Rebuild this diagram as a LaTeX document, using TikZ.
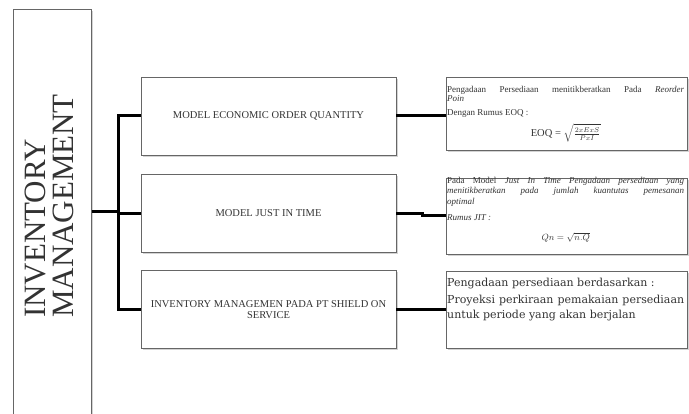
\documentclass[tikz,border=0pt]{standalone}
\usepackage{fontspec}
\setmainfont{Liberation Serif}
\newfontfamily\notefont{DejaVu Serif}
\usetikzlibrary{positioning}
\usetikzlibrary{calc}
\usetikzlibrary{shadows}

\begin{document}
\begin{tikzpicture}[x=1pt, y=-1pt]
    \colorlet{border}{black!60}
\colorlet{annotation}{black!80}

\newcommand\midwidth{255}
\newcommand\notewidth{241}
\newcommand\rowheight{78}
\newcommand\busx{118}

\tikzset{
    link/.style={line width=3pt, black},
    panel/.style={
        draw=border, fill=white, line width=.8pt,
        rectangle, inner sep=0pt,
        drop shadow={shadow xshift=2pt, shadow yshift=-2pt, opacity=.35},
    },
    model box/.style={
        panel, text=annotation,
        minimum width=\midwidth pt, minimum height=\rowheight pt,
        align=center, font=\fontsize{10.5}{11}\selectfont,
    },
    note box/.style={
        panel, minimum width=\notewidth pt, anchor=west,
    },
    note text/.style={
        anchor=north west, inner xsep=1pt, inner ysep=0pt,
        text width={\notewidth pt - 4pt}, align=justify,
        text=annotation,
    },
}

\useasboundingbox (0, 0) rectangle (689, 414);

% left column
\node[panel, anchor=north west, minimum width=78pt, minimum height=425pt]
    at (13, 9) (inv) {};
\node[rotate=90, align=left, text=annotation,
    font=\fontsize{31}{28}\selectfont] at (49, 206) (inv-label)
    {INVENTORY\\MANAGEMENT};

% models
\node[model box] at (268.5, 116) (eoq) {MODEL ECONOMIC ORDER QUANTITY};
\node[model box] at (268.5, 213.5) (jit) {MODEL JUST IN TIME};
\node[model box] at (268.5, 309.5) (ps)
    {INVENTORY MANAGEMEN PADA PT SHIELD ON\\SERVICE};

% notes
\node[note box, minimum height=73pt] at (446, 113.5) (eoq-note) {};
\node[note box, minimum height=76pt] at (446, 216) (jit-note) {};
\node[note box, minimum height=77pt] at (446, 309.5) (ps-note) {};

\node[note text, font=\fontsize{9}{9}\selectfont]
    at ($(eoq-note.north west)+(0, 9)$) (eoq-text) {%
    Pengadaan Persediaan menitikberatkan Pada \textit{Reorder}\linebreak
    \textit{Poin}\par
    \vspace{5pt}Dengan Rumus EOQ :\par
    \vspace{6pt}\centering\fontsize{10.5}{11}\selectfont
    EOQ = $\sqrt{\frac{2xExS}{PxI}}$\par};

\node[note text, font=\fontsize{9}{10.5}\selectfont]
    at ($(jit-note.north west)+(0, -1)$) (jit-text) {%
    Pada Model \textit{Just In Time Pengadaan persediaan yang}\linebreak
    \textit{menitikberatkan pada jumlah kuantutas pemesanan}\linebreak
    \textit{optimal}\par
    \vspace{6pt}\textit{Rumus JIT :}\par
    \vspace{9pt}\centering $Qn = \sqrt{n.Q}$\par};

\node[note text, font=\notefont\fontsize{11}{15}\selectfont]
    at ($(ps-note.north west)+(0, 7)$) (ps-text) {%
    Pengadaan persediaan berdasarkan :\par
    \vspace{2pt}Proyeksi perkiraan pemakaian persediaan\linebreak
    untuk periode yang akan berjalan\par};

% connectors
\coordinate (fork) at (\busx, 212);
\draw[link] (fork -| inv.east) -- (fork);
\draw[link] (fork) |- (eoq.west);
\draw[link] (fork) |- (jit.west);
\draw[link] (fork) |- (ps.west);

\draw[link] (eoq.east) -- (eoq.east -| eoq-note.west);
\draw[link] (jit.east) -- ++(26, 0) |- (jit-note.west);
\draw[link] (ps.east) -- (ps-note.west);
\end{tikzpicture}
\end{document}
